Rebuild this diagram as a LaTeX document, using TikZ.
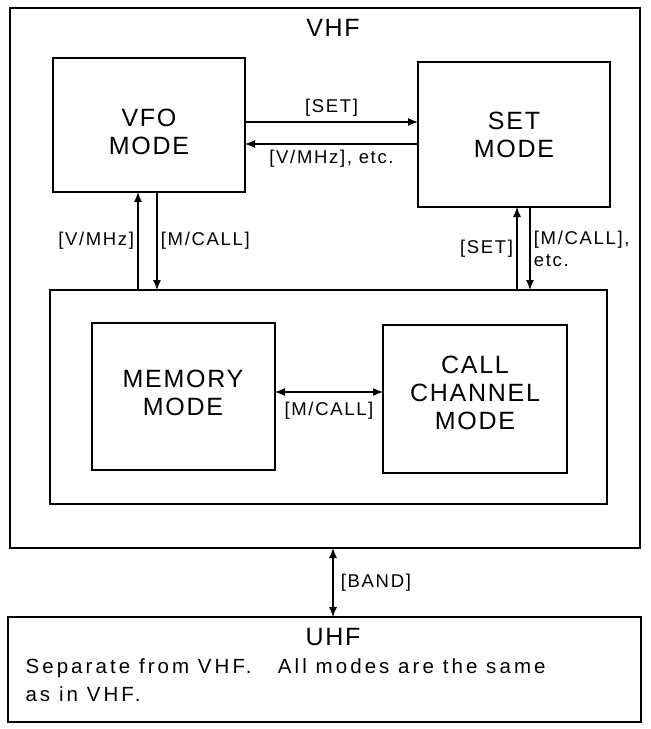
\documentclass[tikz,border=0pt]{standalone}
\usepackage{fontspec}
\setmainfont{Liberation Sans}
\newfontfamily\bigf[LetterSpace=7]{Liberation Sans}
\newfontfamily\labf[LetterSpace=9]{Liberation Sans}
\newfontfamily\notef[LetterSpace=15]{Liberation Sans}
\usetikzlibrary{arrows.meta}
\begin{document}
\begin{tikzpicture}[x=1pt,y=-1pt,
 box/.style={draw,line width=1.3pt,inner sep=0pt},
 big/.style={font=\bigf\fontsize{25}{28}\selectfont,align=center},
 lab/.style={font=\labf\fontsize{18.5}{22}\selectfont,align=left},
 arr/.style={line width=1.2pt,-{Latex[length=10pt,width=8pt]}},
 darr/.style={line width=1.2pt,{Latex[length=10pt,width=8pt]}-{Latex[length=10pt,width=8pt]}}]
\useasboundingbox (0,0) rectangle (651,729);
\draw[box] (10,8) rectangle (640,548);
\node[big] (vhf) at (333,28) {VHF};
\draw[box] (53,58) rectangle (245,192);
\node[big] (vfo) at (149,132) {VFO\\MODE};
\draw[box] (418,62) rectangle (610,207);
\node[big] (set) at (514,135) {SET\\MODE};
\draw[box] (50,290) rectangle (607,504);
\draw[box] (92,323) rectangle (275,470);
\node[big] (mem) at (183,393) {MEMORY\\MODE};
\draw[box] (383,325) rectangle (567,473);
\node[big] (call) at (475,393) {CALL\\CHANNEL\\MODE};
\draw[box] (8,617) rectangle (641,722);
\node[big] (uhf) at (333,637) {UHF};
\node[font=\notef\fontsize{20.5}{28}\selectfont,align=left,anchor=north west] (note) at (22,655) {Separate from VHF.\ \ \ All modes are the same\\as in VHF.};
\coordinate (a1) at (245,122); \coordinate (b1) at (418,122);
\draw[arr] (a1) -- (b1) node[lab,midway,above=2pt] {[SET]};
\coordinate (a2) at (418,144); \coordinate (b2) at (245,144);
\draw[arr] (a2) -- (b2) node[lab,midway,below=2pt] {[V/MHz], etc.};
\coordinate (c1) at (138,290); \coordinate (d1) at (138,192);
\draw[arr] (c1) -- (d1) node[lab,midway,left] {[V/MHz]};
\coordinate (c2) at (157,192); \coordinate (d2) at (157,290);
\draw[arr] (c2) -- (d2) node[lab,midway,right] {[M/CALL]};
\coordinate (e1) at (517,290); \coordinate (f1) at (517,207);
\draw[arr] (e1) -- (f1) node[lab,midway,left] {[SET]};
\coordinate (e2) at (530,207); \coordinate (f2) at (530,290);
\draw[arr] (e2) -- (f2) node[lab,midway,right] {[M/CALL],\\etc.};
\draw[darr] (275,392) -- (383,392) node[lab,midway,below=6pt] {[M/CALL]};
\coordinate (g1) at (333,548); \coordinate (g2) at (333,617);
\draw[darr] (g1) -- (g2) node[lab,midway,right=4pt] {[BAND]};
\end{tikzpicture}
\end{document}
